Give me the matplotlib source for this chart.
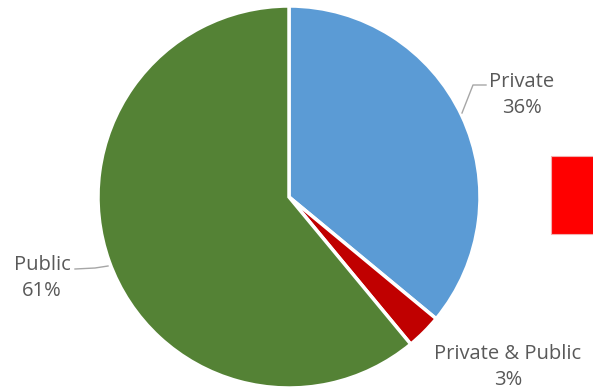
import matplotlib
matplotlib.use("Agg")
import matplotlib.pyplot as plt
from matplotlib.patches import Rectangle

categories = ["Private", "Private & Public", "Public"]
values = [36, 3, 61]
colors = ["#5B9BD5", "#C00000", "#548235"]

W, H = 593, 391
fig = plt.figure(figsize=(W / 100, H / 100), dpi=100)
fig.patch.set_facecolor("white")

cx, cy, r = 289, 197, 191
ax = fig.add_axes([(cx - r) / W, (H - cy - r) / H, 2 * r / W, 2 * r / H])
ax.pie(values, colors=colors, startangle=90, counterclock=False,
       wedgeprops=dict(edgecolor="white", linewidth=2.5), radius=1.0)
ax.set_xlim(-1, 1)
ax.set_ylim(-1, 1)
ax.set_aspect("equal")
ax.axis("off")

def d(px, py):
    return ((px - cx) / r, (cy - py) / r)

txt = dict(color="#595959", fontsize=14.5, family=["Open Sans", "DejaVu Sans"],
           ha="center", va="center", clip_on=False, linespacing=1.42)

labels = [f"{c}\n{v}%" for c, v in zip(categories, values)]
ax.text(*d(522, 95), labels[0], **txt)
ax.text(*d(508, 367), labels[1], **txt)
ax.text(*d(42, 278), labels[2], **txt)

for pts in ([(462, 113), (473, 85), (486, 85)], [(75, 269), (95, 268), (108, 266)]):
    xs, ys = zip(*[d(*p) for p in pts])
    ax.plot(xs, ys, color="#A6A6A6", lw=1.0, clip_on=False)

fig.patches.append(Rectangle((551 / W, (H - 234) / H), 45 / W, 78 / H,
                             transform=fig.transFigure, facecolor="#FF0000",
                             edgecolor="#F2B0B0", lw=0.8))

fig.savefig("out.png", dpi=100)
